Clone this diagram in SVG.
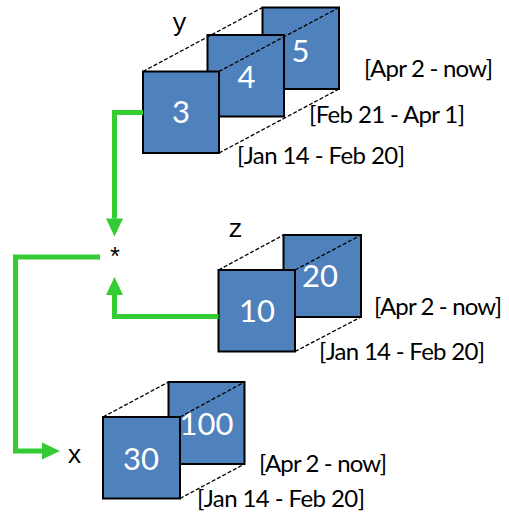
<svg xmlns="http://www.w3.org/2000/svg" width="509" height="516" viewBox="0 0 509 516">
  <style>
    .cell { fill: #4F81BD; stroke: #000; stroke-width: 2; }
    .num { fill: #fff; font-family: Lato, "Open Sans", sans-serif; font-size: 31px; text-anchor: middle; }
    .range { fill: #000; font-family: Lato, "Open Sans", sans-serif; font-size: 24px; }
    .var { fill: #000; font-family: "Liberation Mono", "DejaVu Sans Mono", monospace; font-size: 25px; }
    .edge { fill: none; stroke: #000; stroke-width: 1.3; stroke-dasharray: 4 2; }
    .flow { fill: none; stroke: #33CC33; stroke-width: 5; stroke-linejoin: miter; }
  </style>
  <defs>
    <marker id="arrow" markerUnits="userSpaceOnUse" markerWidth="18" markerHeight="17" refX="0" refY="8.5" orient="auto" overflow="visible">
      <path d="M0,0 L18,8.5 L0,17 Z" fill="#33CC33"/>
    </marker>
  </defs>

  <!-- y: three versions -->
  <g id="y">
    <g id="y-5">
      <rect class="cell" x="262.5" y="7.5" width="76.5" height="81.5"/>
      <text class="num" x="300.5" y="61.5">5</text>
    </g>
    <g id="y-4">
      <rect class="cell" x="207.5" y="35" width="76.5" height="81.5"/>
      <text class="num" x="246.5" y="88">4</text>
    </g>
    <g id="y-3">
      <rect class="cell" x="143" y="71.5" width="76" height="81.5"/>
      <text class="num" x="181" y="123">3</text>
    </g>
    <path class="edge" d="M143,71.5 L262.5,7.5 M219,71.5 L339,7.5 M219,153 L339,89"/>
    <text id="y-name" class="var" x="172" y="31">y</text>
    <text class="range" x="364" y="77" textLength="129">[Apr 2 - now]</text>
    <text class="range" x="309" y="123" textLength="156">[Feb 21 - Apr 1]</text>
    <text class="range" x="237" y="164" textLength="168">[Jan 14 - Feb 20]</text>
  </g>

  <!-- z: two versions -->
  <g id="z">
    <g id="z-20">
      <rect class="cell" x="283.5" y="235" width="77.5" height="82"/>
      <text class="num" x="320" y="287">20</text>
    </g>
    <g id="z-10">
      <rect class="cell" x="218.5" y="270" width="76.5" height="81.5"/>
      <text class="num" x="257" y="321.5">10</text>
    </g>
    <path class="edge" d="M218.5,270 L283.5,235 M295,270 L361,235 M295,351.5 L361,317"/>
    <text id="z-name" class="var" x="228" y="237">z</text>
    <text class="range" x="374" y="315" textLength="128">[Apr 2 - now]</text>
    <text class="range" x="319" y="360" textLength="166">[Jan 14 - Feb 20]</text>
  </g>

  <!-- x: two versions -->
  <g id="x">
    <g id="x-100">
      <rect class="cell" x="168.5" y="382" width="76" height="82"/>
      <text class="num" x="206.5" y="435">100</text>
    </g>
    <g id="x-30">
      <rect class="cell" x="103" y="417" width="77" height="81.5"/>
      <text class="num" x="141" y="470">30</text>
    </g>
    <path class="edge" d="M103,417 L168.5,382 M180,417 L244.5,382 M180,498.5 L244.5,464"/>
    <text id="x-name" class="var" x="67" y="463">x</text>
    <text class="range" x="259" y="471.5" textLength="128">[Apr 2 - now]</text>
    <text class="range" x="197" y="506.5" textLength="168">[Jan 14 - Feb 20]</text>
  </g>

  <!-- multiply operator -->
  <g id="op-mul">
    <text class="var" x="115" y="266" text-anchor="middle">*</text>
  </g>

  <!-- data flow: y * z -> x -->
  <g id="connectors">
    <polyline class="flow" points="143,112.5 114.5,112.5 114.5,218.5" marker-end="url(#arrow)"/>
    <polyline class="flow" points="218.5,316.5 114.5,316.5 114.5,295" marker-end="url(#arrow)"/>
    <polyline class="flow" points="100,257 15.5,257 15.5,451 42,451" marker-end="url(#arrow)"/>
  </g>
</svg>
